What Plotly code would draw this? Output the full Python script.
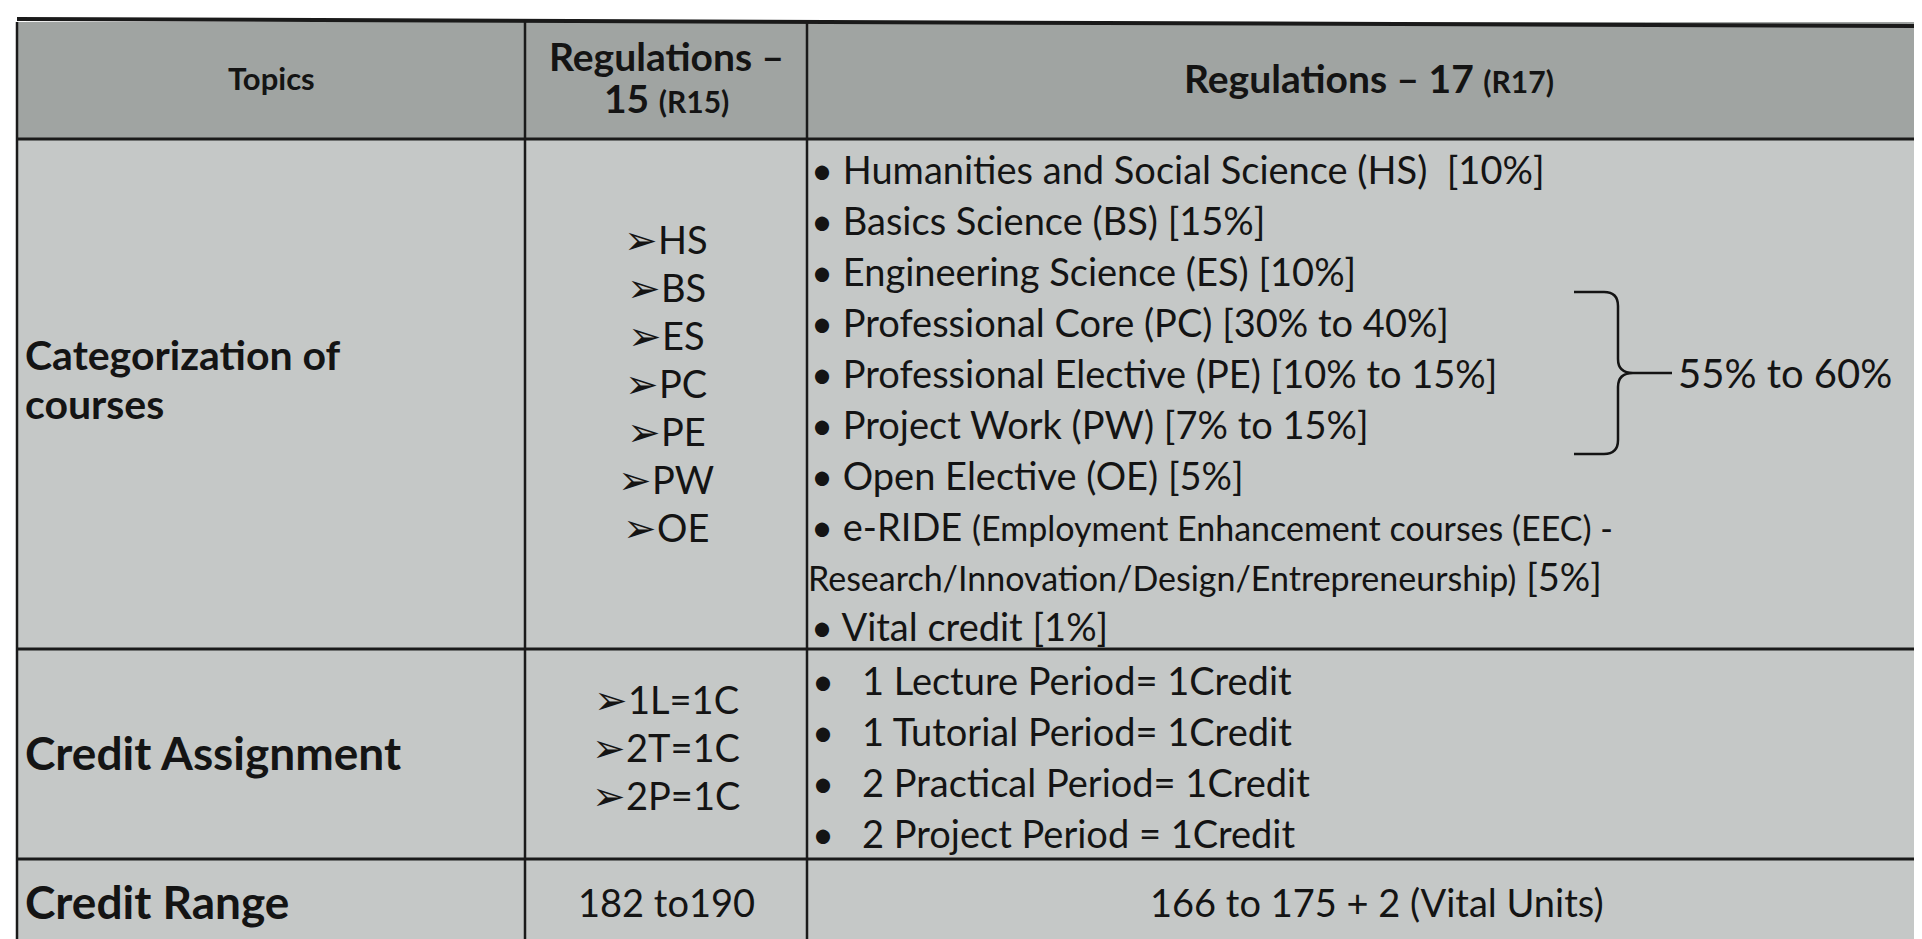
import plotly.graph_objects as go

# ---------------- data ----------------
header_topics = "Topics"
header_r15 = ["Regulations –", "15", "(R15)"]
header_r17 = ["Regulations – 17", "(R17)"]

topics = [["Categorization of", "courses"], ["Credit Assignment"], ["Credit Range"]]

r15_categories = ["HS", "BS", "ES", "PC", "PE", "PW", "OE"]
r17_categories = [
    "Humanities and Social Science (HS)  [10%]",
    "Basics Science (BS) [15%]",
    "Engineering Science (ES) [10%]",
    "Professional Core (PC) [30% to 40%]",
    "Professional Elective (PE) [10% to 15%]",
    "Project Work (PW) [7% to 15%]",
    "Open Elective (OE) [5%]",
]
eride_name = "e-RIDE"
eride_detail = ["(Employment Enhancement courses (EEC) -",
                "Research/Innovation/Design/Entrepreneurship)"]
eride_share = "[5%]"
vital_credit = "Vital credit [1%]"
core_group = ["PC", "PE", "PW"]
core_group_label = "55% to 60%"

r15_credit = ["1L=1C", "2T=1C", "2P=1C"]
r17_credit = ["1 Lecture Period= 1Credit", "1 Tutorial Period= 1Credit",
              "2 Practical Period= 1Credit", "2 Project Period = 1Credit"]

r15_range = "182 to190"
r17_range = "166 to 175 + 2 (Vital Units)"

# ---------------- layout geometry ----------------
W, H = 1922, 939
col_x = [9, 517, 799, 1922]
row_y = [14, 131, 641, 851, 937]
FONT = "Lato, 'Open Sans', sans-serif"
INK = "#141414"
HEAD_BG = "#a0a4a2"
BODY_BG = "#c5c8c7"
LINE = "#1a1a1a"

fig = go.Figure()
fig.add_trace(go.Scatter(x=[0, W], y=[0, H], mode="markers",
                         marker=dict(opacity=0), hoverinfo="skip", showlegend=False))

shapes = []
shapes.append(dict(type="rect", xref="x", yref="y", x0=col_x[0], x1=col_x[-1],
                   y0=row_y[0], y1=row_y[1], fillcolor=HEAD_BG, line_width=0, layer="below"))
shapes.append(dict(type="rect", xref="x", yref="y", x0=col_x[0], x1=col_x[-1],
                   y0=row_y[1], y1=row_y[-1], fillcolor=BODY_BG, line_width=0, layer="below"))
shapes.append(dict(type="line", xref="x", yref="y", x0=col_x[0], x1=col_x[-1],
                   y0=row_y[0] - 3, y1=row_y[0] + 4, line=dict(color=LINE, width=4)))
for yy in row_y[1:]:
    shapes.append(dict(type="line", xref="x", yref="y", x0=col_x[0], x1=col_x[-1],
                       y0=yy, y1=yy, line=dict(color=LINE, width=3)))
for xx in col_x[:-1]:
    shapes.append(dict(type="line", xref="x", yref="y", x0=xx, x1=xx,
                       y0=row_y[0], y1=row_y[-1], line=dict(color=LINE, width=2.5)))

ann = []


def txt(x, y, s, size, bold=False, anchor="center"):
    if bold:
        s = "<b>" + s + "</b>"
    ann.append(dict(x=x, y=y, xref="x", yref="y", text=s, showarrow=False,
                    xanchor=anchor, yanchor="middle",
                    font=dict(family=FONT, size=size, color=INK)))


def sized(s, size):
    return "<span style='font-size:%dpx'>%s</span>" % (size, s)


ARROW = sized("➢", 40)

c1 = (col_x[0] + col_x[1]) / 2
c2 = (col_x[1] + col_x[2]) / 2
c3 = (col_x[2] + col_x[3]) / 2

# header
txt(c1, 70, header_topics, 31, bold=True)
txt(c2, 48, header_r15[0], 39, bold=True)
txt(c2, 90, header_r15[1] + " " + sized(header_r15[2], 30), 39, bold=True)
txt(c3, 70, header_r17[0] + " " + sized(header_r17[1], 30), 39, bold=True)

# row 1 : categorization
label_x = 15
txt(label_x, 346, topics[0][0], 41, bold=True, anchor="left")
txt(label_x, 395, topics[0][1], 41, bold=True, anchor="left")

r15_step = 48
r15_y0 = 231
for i, s in enumerate(r15_categories):
    txt(c2, r15_y0 + i * r15_step, ARROW + s, 38)

step = 51
bx = col_x[2] + 2
r17_y0 = 161
ys = []
for i, s in enumerate(r17_categories):
    y = r17_y0 + i * step
    ys.append(y)
    txt(bx, y, "• " + s, 38, anchor="left")
y_eride = r17_y0 + len(r17_categories) * step
txt(bx, y_eride, "• " + eride_name + " " + sized(eride_detail[0], 34), 38, anchor="left")
txt(col_x[2] - 1, y_eride + 50, sized(eride_detail[1], 34) + " " + eride_share, 38, anchor="left")
txt(bx, y_eride + 100, "• " + vital_credit, 38, anchor="left")

# brace grouping PC/PE/PW
gi = [r15_categories.index(g) for g in core_group]
top = ys[gi[0]] - 30
bot = ys[gi[-1]] + 30
mid = (top + bot) / 2
xl, xv, xt = 1566, 1610, 1625
r = 14
path = (f"M {xl},{top} L {xv - r},{top} Q {xv},{top} {xv},{top + r} "
        f"L {xv},{mid - r} Q {xv},{mid} {xt},{mid} "
        f"Q {xv},{mid} {xv},{mid + r} L {xv},{bot - r} "
        f"Q {xv},{bot} {xv - r},{bot} L {xl},{bot}")
shapes.append(dict(type="path", xref="x", yref="y", path=path,
                   line=dict(color=INK, width=2.5)))
shapes.append(dict(type="line", xref="x", yref="y", x0=xt, x1=1664, y0=mid, y1=mid,
                   line=dict(color=INK, width=2.5)))
txt(1668, mid, core_group_label, 40, anchor="left")

# row 2 : credit assignment
txt(label_x, 744, topics[1][0], 46, bold=True, anchor="left")
for i, s in enumerate(r15_credit):
    txt(c2, 691 + i * 48, ARROW + s, 38)
for i, s in enumerate(r17_credit):
    y = 672 + i * step
    txt(col_x[2] + 3, y, "•", 38, anchor="left")
    txt(852, y, s, 38, anchor="left")

# row 3 : credit range
txt(label_x, 893, topics[2][0], 46, bold=True, anchor="left")
txt(c2, 894, r15_range, 38)
txt(c3 + 8, 894, r17_range, 38)

fig.update_layout(
    width=W, height=H, margin=dict(l=0, r=0, t=0, b=0),
    paper_bgcolor="white", plot_bgcolor="white",
    xaxis=dict(range=[0, W], visible=False, fixedrange=True),
    yaxis=dict(range=[H, 0], visible=False, fixedrange=True),
    shapes=shapes, annotations=ann, showlegend=False,
)
fig.write_html("out.html")
